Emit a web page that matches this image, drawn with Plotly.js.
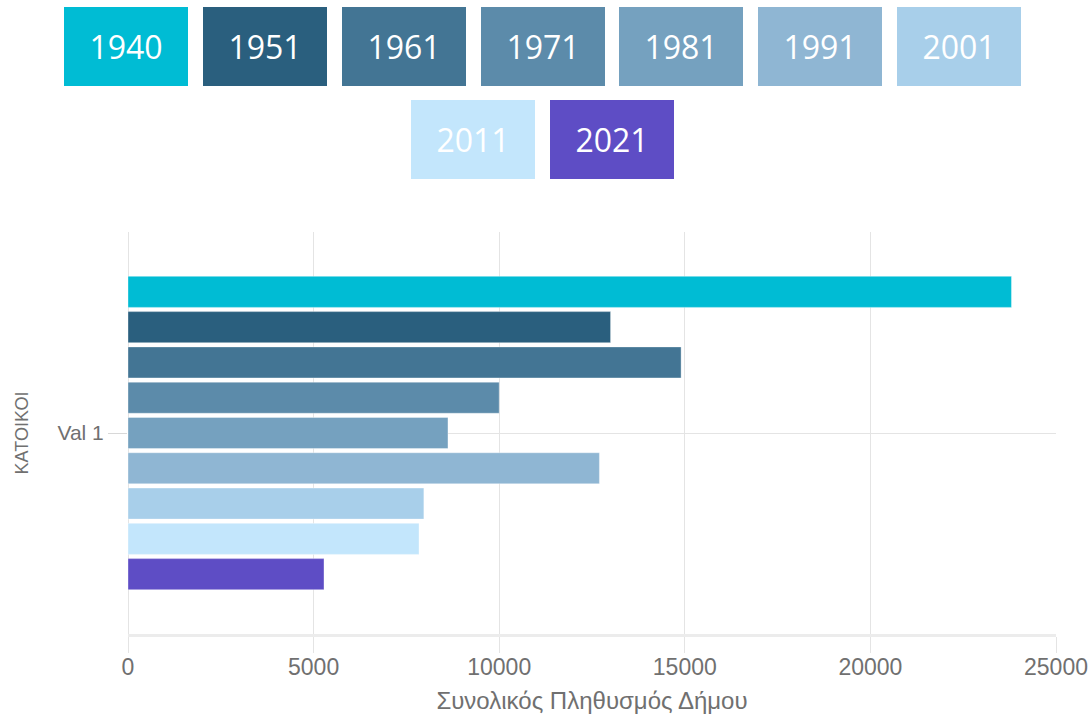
<!DOCTYPE html>
<html>
<head>
<meta charset="utf-8">
<script src="https://cdn.plot.ly/plotly-3.0.1.min.js"></script>
<style>
  html, body { margin: 0; padding: 0; background: #ffffff; }
  #chart { width: 1092px; height: 715px; }
</style>
</head>
<body>
<div id="chart"></div>
<script>
// ---- data ----
const categories = ["Val 1"];
const years = ["1940", "1951", "1961", "1971", "1981", "1991", "2001", "2011", "2021"];
const population = [23800, 13000, 14900, 10000, 8620, 12700, 7970, 7840, 5280];
const colors = ["#00BCD4", "#2A5F7E", "#437594", "#5C8BAA", "#75A1BF", "#8FB6D3", "#A8CFEA", "#C3E6FC", "#5E4DC5"];
const xTickVals = [0, 5000, 10000, 15000, 20000, 25000];
const xTickText = ["0", "5000", "10000", "15000", "20000", "25000"];
const xTitle = "Συνολικός Πληθυσμός Δήμου";
const yTitle = "ΚΑΤΟΙΚΟΙ";

// ---- layout geometry ----
const W = 1092, H = 715;
const margin = { l: 128, r: 36, t: 232, b: 81 };
const plotW = W - margin.l - margin.r;
const plotH = H - margin.t - margin.b;

const traces = years.map((y, i) => ({
  type: "bar",
  orientation: "h",
  name: y,
  y: categories,
  x: [population[i]],
  marker: { color: colors[i], line: { color: "rgba(255,255,255,0.35)", width: 1 } },
  hovertemplate: y + ": %{x}<extra></extra>"
}));

// legend boxes as annotations (two centred rows)
const perRow = 7, boxW = 124, boxH = 79, step = 138.8;
const centreX = 542.5;
const rowY = [46.5, 139];
const annotations = years.map((y, i) => {
  const row = Math.floor(i / perRow);
  const inRow = row === 0 ? Math.min(perRow, years.length) : years.length - perRow;
  const idx = i - row * perRow;
  const cx = centreX + (idx - (inRow - 1) / 2) * step;
  const cy = rowY[row];
  return {
    xref: "paper", yref: "paper",
    x: (cx - margin.l) / plotW,
    y: (H - margin.b - cy) / plotH,
    xanchor: "center", yanchor: "middle",
    text: y, showarrow: false,
    width: boxW, height: boxH, borderpad: 0, borderwidth: 0,
    bgcolor: colors[i],
    font: { family: "Open Sans, sans-serif", size: 32, color: "#ffffff" }
  };
});

const layout = {
  width: W, height: H,
  margin: margin,
  paper_bgcolor: "#ffffff",
  plot_bgcolor: "#ffffff",
  barmode: "group",
  bargap: 0.21,
  bargroupgap: 0.12,
  showlegend: false,
  font: { family: "Liberation Sans, Arial, sans-serif", color: "#666666", size: 21 },
  xaxis: {
    range: [0, 25000],
    tickvals: xTickVals,
    ticktext: xTickText,
    showgrid: true, gridcolor: "#e4e4e4", gridwidth: 1,
    zeroline: true, zerolinecolor: "#e4e4e4", zerolinewidth: 1,
    showline: true, linecolor: "#ececec", linewidth: 3,
    ticks: "outside", ticklen: 16, tickcolor: "#e4e4e4", tickwidth: 1,
    ticklabelstandoff: -6,
    tickfont: { size: 23, color: "#707070" },
    title: { text: xTitle, font: { size: 24, color: "#707070" }, standoff: 14 },
    fixedrange: true
  },
  yaxis: {
    autorange: "reversed",
    showgrid: true, gridcolor: "#e4e4e4", gridwidth: 1,
    showline: false, zeroline: false,
    ticks: "outside", ticklen: 19, tickcolor: "#d8d8d8", tickwidth: 1,
    tickfont: { size: 21, color: "#707070" },
    title: { text: yTitle, font: { size: 18, color: "#707070" }, standoff: 24 },
    fixedrange: true
  },
  annotations: annotations
};

Plotly.newPlot("chart", traces, layout, { displayModeBar: false, responsive: false });
</script>
</body>
</html>
